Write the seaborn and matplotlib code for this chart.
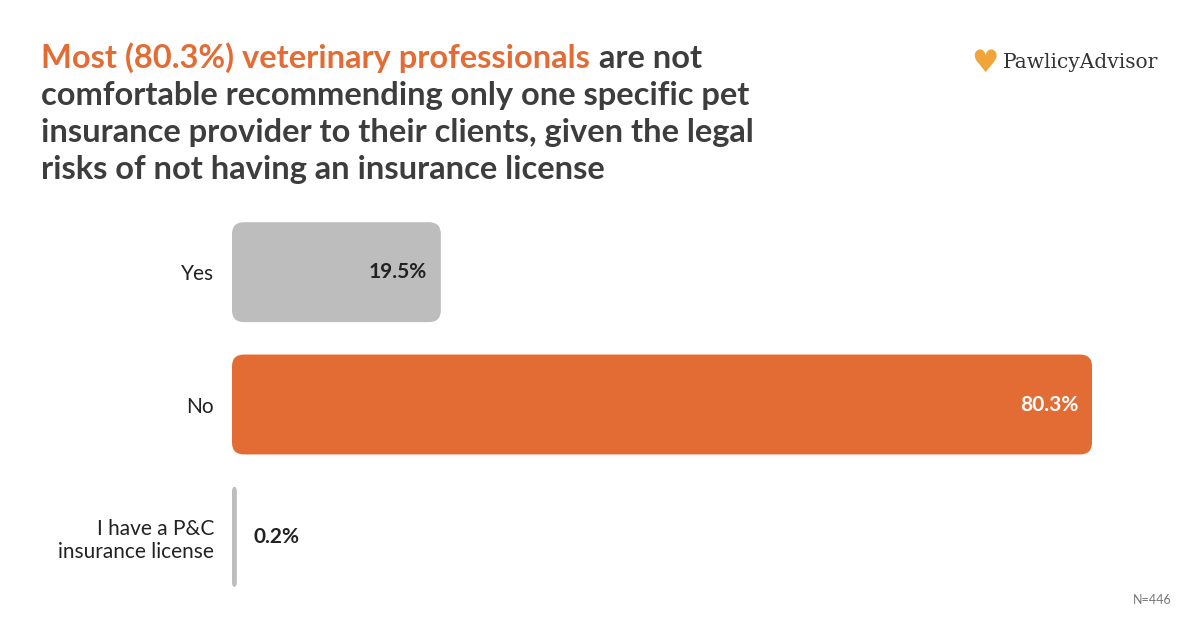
import matplotlib
matplotlib.use("Agg")
import matplotlib.pyplot as plt
import seaborn as sns
import pandas as pd
from matplotlib.patches import FancyBboxPatch

categories = ["Yes", "No", "I have a P&C\ninsurance license"]
values = [19.5, 80.3, 0.2]
colors = ["#bdbdbd", "#e36c35", "#bdbdbd"]
labels = ["19.5%", "80.3%", "0.2%"]

sns.set_theme(style="white")
plt.rcParams['font.family'] = ['Lato', 'DejaVu Sans']

df = pd.DataFrame({"cat": categories, "val": values})

fig = plt.figure(figsize=(12, 6.3), dpi=100)
ax = fig.add_axes([232 / 1200, 1 - 603 / 630, 10.71 * 90 / 1200, 397 / 630])
sns.barplot(data=df, y="cat", x="val", hue="cat", palette=colors, legend=False,
            orient="h", width=0.755, saturation=1, ax=ax)
ax.set_xlim(0, 90)
ax.set_ylim(2.5, -0.5)

# swap plain bars for rounded ones
for p in list(ax.patches):
    x, y, w, h = p.get_x(), p.get_y(), p.get_width(), p.get_height()
    c = p.get_facecolor()
    p.remove()
    if w < 1:
        ax.add_patch(FancyBboxPatch((x, y), 0.45, h, boxstyle="round,pad=0,rounding_size=0.22",
                                    mutation_aspect=0.09 / 0.22 * 0.4, fc=c, ec="none"))
    else:
        ax.add_patch(FancyBboxPatch((x, y), w, h, boxstyle="round,pad=0,rounding_size=1.12",
                                    mutation_aspect=0.09 / 1.12, fc=c, ec="none"))

for i, (v, lab) in enumerate(zip(values, labels)):
    if v > 10:
        ax.text(v - 1.3, i, lab, ha="right", va="center", fontsize=15, fontweight="bold",
                color="white" if v > 50 else "#222222")
    else:
        ax.text(v + 1.8, i, lab, ha="left", va="center", fontsize=15, fontweight="bold", color="#222222")

ax.set_xlabel("")
ax.set_ylabel("")
ax.set_xticks([])
ax.tick_params(axis="y", length=0, pad=13, labelsize=15, labelcolor="#222222")
for t in ax.get_yticklabels():
    t.set_horizontalalignment("right")
    t.set_multialignment("right")
sns.despine(ax=ax, left=True, bottom=True)

# title
tcol = "#3d3d3d"
orange = "#e36c35"
fs = 23.5
t1 = fig.text(41 / 1200, 1 - 68 / 630, "Most (80.3%) veterinary professionals", fontsize=fs,
              fontweight="bold", color=orange, va="baseline")
fig.canvas.draw()
bb = t1.get_window_extent()
fig.text(bb.x1 / 1200 + 0.008, 1 - 68 / 630, "are not", fontsize=fs, fontweight="bold",
         color=tcol, va="baseline")
for k, line in enumerate(["comfortable recommending only one specific pet",
                          "insurance provider to their clients, given the legal",
                          "risks of not having an insurance license"]):
    fig.text(41 / 1200, 1 - (68 + 37 * (k + 1)) / 630, line, fontsize=fs, fontweight="bold",
             color=tcol, va="baseline")

# logo
fig.text(985 / 1200, 1 - 63 / 630, "\u2665", fontsize=22, color="#f0a43a", ha="center", va="center",
         family=["DejaVu Sans"])
fig.text(1003 / 1200, 1 - 63 / 630, "PawlicyAdvisor", fontsize=14.5, color="#333333", va="center",
         family=["DejaVu Serif"])
fig.text(1172 / 1200, 1 - 600 / 630, "N=446", fontsize=9, color="#777777", ha="right", va="center")

fig.savefig("out.png", dpi=100, facecolor="white")
